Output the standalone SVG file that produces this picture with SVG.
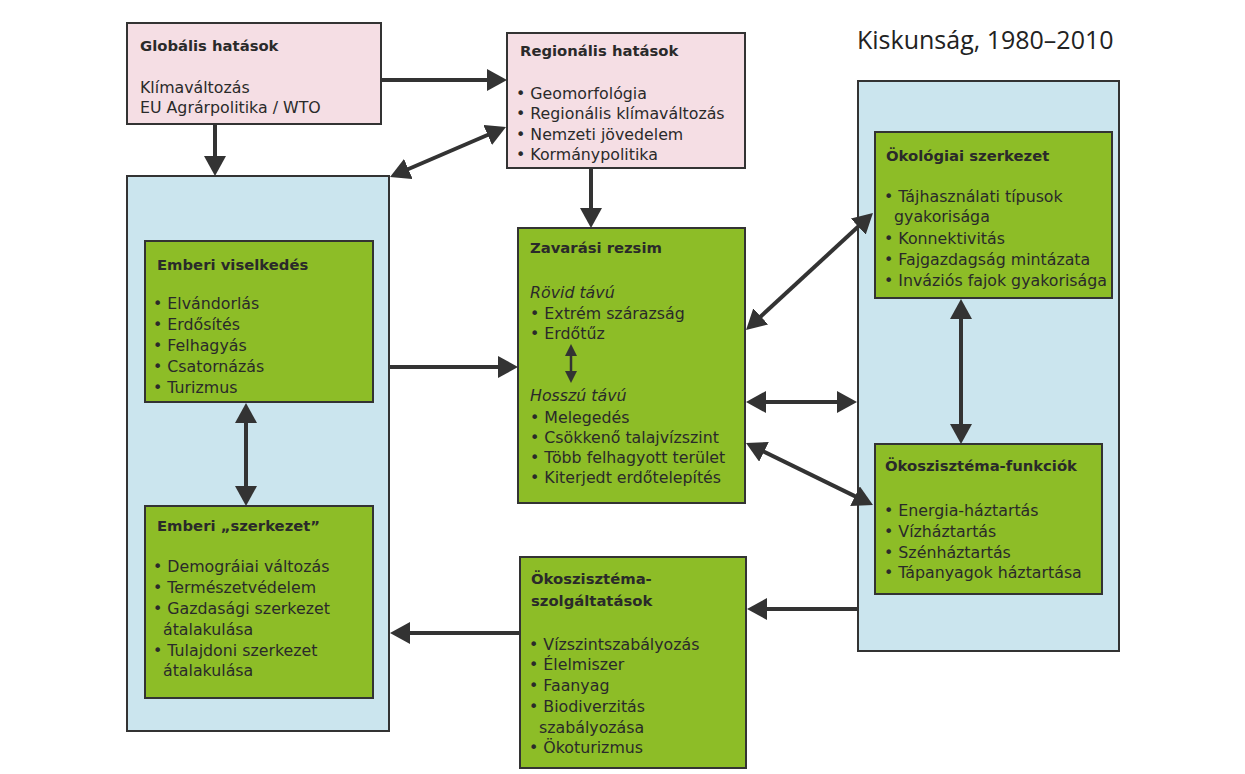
<svg xmlns="http://www.w3.org/2000/svg" width="1245" height="774" viewBox="0 0 1245 774">
<style>
.pink{fill:#f5dee4;stroke:#333;stroke-width:2}
.blue{fill:#cbe5ee;stroke:#333;stroke-width:2}
.green{fill:#8dbd27;stroke:#333;stroke-width:2}
text{font-family:"DejaVu Sans","Open Sans",sans-serif;font-size:15.8px;fill:#2a2a2a}
.t{font-weight:bold;font-size:14.8px}
.i{font-style:italic}
.big{font-family:"Open Sans","Noto Sans",sans-serif;font-size:25px;fill:#222}
.c line{stroke:#333;stroke-width:4}
.c line.thin{stroke-width:2.5}
</style>
<defs>
<marker id="ah" viewBox="0 0 20 22" refX="10" refY="11" markerWidth="20" markerHeight="22" markerUnits="userSpaceOnUse" orient="auto-start-reverse">
<path d="M0,0 L20,11 L0,22 Z" fill="#333"/>
</marker>
<marker id="sh" viewBox="0 0 12 12" refX="6" refY="6" markerWidth="12" markerHeight="12" markerUnits="userSpaceOnUse" orient="auto-start-reverse">
<path d="M0,0 L12,6 L0,12 Z" fill="#333"/>
</marker>
</defs>
<rect width="1245" height="774" fill="#fff"/>
<text class="big" x="857" y="49">Kiskunság, 1980–2010</text>

<g id="globalis">
<rect class="pink" x="127" y="23" width="254" height="101"/>
<text class="t" x="140" y="51">Globális hatások</text>
<text x="140" y="93">Klímaváltozás</text>
<text x="140" y="113">EU Agrárpolitika / WTO</text>
</g>

<g id="regionalis">
<rect class="pink" x="507" y="33" width="238" height="135"/>
<text class="t" x="520" y="56">Regionális hatások</text>
<text x="516" y="99">• Geomorfológia</text>
<text x="516" y="119">• Regionális klímaváltozás</text>
<text x="516" y="140">• Nemzeti jövedelem</text>
<text x="516" y="160">• Kormánypolitika</text>
</g>

<g id="emberi-rendszer">
<rect class="blue" x="127" y="176" width="262" height="555"/>
</g>

<g id="emberi-viselkedes">
<rect class="green" x="145" y="241" width="228" height="161"/>
<text class="t" x="157" y="270">Emberi viselkedés</text>
<text x="153" y="309">• Elvándorlás</text>
<text x="153" y="330">• Erdősítés</text>
<text x="153" y="351">• Felhagyás</text>
<text x="153" y="372">• Csatornázás</text>
<text x="153" y="393">• Turizmus</text>
</g>

<g id="emberi-szerkezet">
<rect class="green" x="145" y="506" width="228" height="192"/>
<text class="t" x="157" y="531">Emberi „szerkezet”</text>
<text x="153" y="572">• Demográiai változás</text>
<text x="153" y="593">• Természetvédelem</text>
<text x="153" y="614">• Gazdasági szerkezet</text>
<text x="163" y="635">átalakulása</text>
<text x="153" y="656">• Tulajdoni szerkezet</text>
<text x="163" y="676">átalakulása</text>
</g>

<g id="zavarasi-rezsim">
<rect class="green" x="518" y="228" width="227" height="275"/>
<text class="t" x="530" y="253">Zavarási rezsim</text>
<text class="i" x="530" y="298">Rövid távú</text>
<text x="530" y="319">• Extrém szárazság</text>
<text x="530" y="339">• Erdőtűz</text>
<text class="i" x="530" y="401">Hosszú távú</text>
<text x="530" y="423">• Melegedés</text>
<text x="530" y="443">• Csökkenő talajvízszint</text>
<text x="530" y="463">• Több felhagyott terület</text>
<text x="530" y="483">• Kiterjedt erdőtelepítés</text>
</g>

<g id="okologiai-rendszer">
<rect class="blue" x="858" y="81" width="261" height="570"/>
</g>

<g id="okologiai-szerkezet">
<rect class="green" x="875" y="132" width="237" height="166"/>
<text class="t" x="886" y="161">Ökológiai szerkezet</text>
<text x="884" y="202">• Tájhasználati típusok</text>
<text x="894" y="222">gyakorisága</text>
<text x="884" y="244">• Konnektivitás</text>
<text x="884" y="265">• Fajgazdagság mintázata</text>
<text x="884" y="286">• Inváziós fajok gyakorisága</text>
</g>

<g id="okoszisztema-funkciok">
<rect class="green" x="875" y="444" width="227" height="150"/>
<text class="t" x="885" y="471">Ökoszisztéma-funkciók</text>
<text x="884" y="516">• Energia-háztartás</text>
<text x="884" y="537">• Vízháztartás</text>
<text x="884" y="558">• Szénháztartás</text>
<text x="884" y="578">• Tápanyagok háztartása</text>
</g>

<g id="okoszisztema-szolgaltatasok">
<rect class="green" x="520" y="557" width="226" height="211"/>
<text class="t" x="531" y="584">Ökoszisztéma-</text>
<text class="t" x="531" y="606">szolgáltatások</text>
<text x="529" y="650">• Vízszintszabályozás</text>
<text x="529" y="670">• Élelmiszer</text>
<text x="529" y="691">• Faanyag</text>
<text x="529" y="712">• Biodiverzitás</text>
<text x="539" y="733">szabályozása</text>
<text x="529" y="753">• Ökoturizmus</text>
</g>

<g id="connectors" class="c">
<line x1="381" y1="80" x2="497" y2="80" marker-end="url(#ah)"/>
<line x1="215" y1="124" x2="215" y2="166" marker-end="url(#ah)"/>
<line x1="399.2" y1="173" x2="496.8" y2="131" marker-start="url(#ah)" marker-end="url(#ah)"/>
<line x1="591" y1="168" x2="591" y2="218" marker-end="url(#ah)"/>
<line x1="389" y1="367" x2="508" y2="367" marker-end="url(#ah)"/>
<line x1="246" y1="413" x2="246" y2="496" marker-start="url(#ah)" marker-end="url(#ah)"/>
<line x1="753.4" y1="323.2" x2="865.6" y2="219.8" marker-start="url(#ah)" marker-end="url(#ah)"/>
<line x1="756" y1="402" x2="847" y2="402" marker-start="url(#ah)" marker-end="url(#ah)"/>
<line x1="755" y1="447.4" x2="864" y2="500.6" marker-start="url(#ah)" marker-end="url(#ah)"/>
<line x1="961" y1="309" x2="961" y2="434" marker-start="url(#ah)" marker-end="url(#ah)"/>
<line x1="858" y1="609" x2="757" y2="609" marker-end="url(#ah)"/>
<line x1="519" y1="633" x2="400" y2="633" marker-end="url(#ah)"/>
<line class="thin" x1="571" y1="350" x2="571" y2="377" marker-start="url(#sh)" marker-end="url(#sh)"/>
</g>
</svg>
